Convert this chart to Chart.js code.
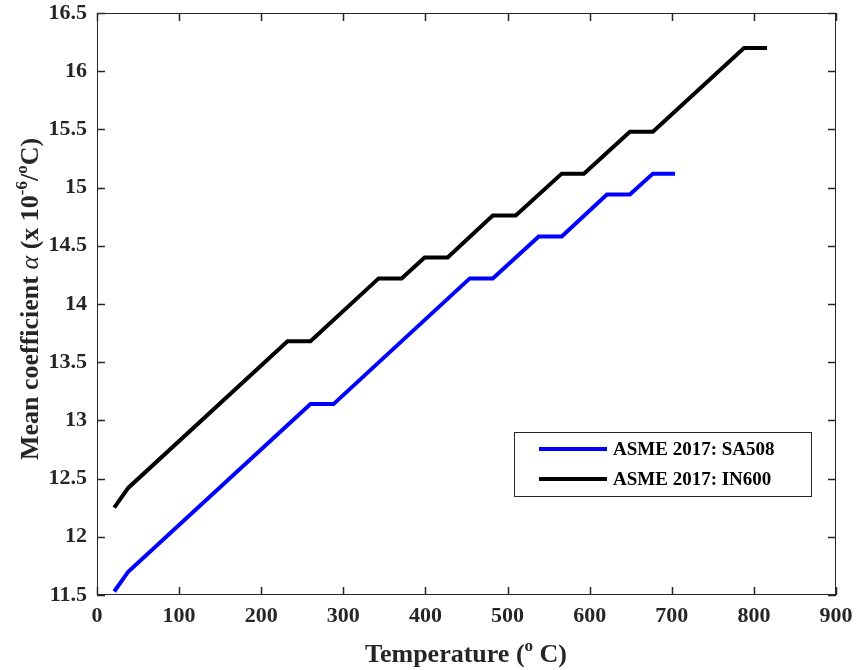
<!DOCTYPE html>
<html>
<head>
<meta charset="utf-8">
<script src="https://cdn.jsdelivr.net/npm/chart.js@4/dist/chart.umd.min.js"></script>
<style>
  html, body { margin: 0; padding: 0; background: #fff; }
  canvas { display: block; }
</style>
</head>
<body>
<canvas id="chart" width="856" height="670"></canvas>
<script>
// mean thermal expansion coefficient
const tempSA508  = [21, 38, 260, 288, 454, 482, 538, 566, 621, 649, 677, 704];
const alphaSA508 = [11.53, 11.70, 13.14, 13.14, 14.22, 14.22, 14.58, 14.58, 14.94, 14.94, 15.12, 15.12];

const tempIN600  = [21, 38, 232, 260, 343, 371, 399, 427, 482, 510, 566, 593, 649, 677, 788, 816];
const alphaIN600 = [12.25, 12.42, 13.68, 13.68, 14.22, 14.22, 14.40, 14.40, 14.76, 14.76, 15.12, 15.12, 15.48, 15.48, 16.20, 16.20];

const seriesLabels = ['ASME 2017: SA508', 'ASME 2017: IN600'];
const xTicks = [0, 100, 200, 300, 400, 500, 600, 700, 800, 900];
const yTicks = [11.5, 12, 12.5, 13, 13.5, 14, 14.5, 15, 15.5, 16, 16.5];

const INK = '#262626';
const SERIF = '"Liberation Serif", "Times New Roman", serif';

const toPoints = (xs, ys) => xs.map((x, i) => ({ x, y: ys[i] }));

// draw a line of text made of pieces (some raised as superscripts), centred on cx
function drawRich(ctx, parts, cx, cy) {
  let total = 0;
  parts.forEach(p => { ctx.font = p.font; total += ctx.measureText(p.text).width; });
  let x = cx - total / 2;
  ctx.textAlign = 'left';
  ctx.textBaseline = 'alphabetic';
  parts.forEach(p => {
    ctx.font = p.font;
    ctx.fillText(p.text, x, cy - (p.rise || 0));
    x += ctx.measureText(p.text).width;
  });
}

const frameAndTitles = {
  id: 'frameAndTitles',
  afterDatasetsDraw(chart) {
    const ctx = chart.ctx;
    const a = chart.chartArea;
    const xs = chart.scales.x, ys = chart.scales.y;
    const tl = 8;

    ctx.save();
    ctx.strokeStyle = INK;
    ctx.lineWidth = 1;
    ctx.strokeRect(a.left + 0.5, a.top + 0.5, a.right - a.left - 1, a.bottom - a.top - 1);

    // inward ticks on all four sides
    ctx.lineWidth = 1.5;
    ctx.beginPath();
    xTicks.forEach(v => {
      const px = Math.round(xs.getPixelForValue(v)) + 0.5;
      ctx.moveTo(px, a.bottom); ctx.lineTo(px, a.bottom - tl);
      ctx.moveTo(px, a.top); ctx.lineTo(px, a.top + tl);
    });
    yTicks.forEach(v => {
      const py = Math.round(ys.getPixelForValue(v)) + 0.5;
      ctx.moveTo(a.left, py); ctx.lineTo(a.left + tl, py);
      ctx.moveTo(a.right, py); ctx.lineTo(a.right - tl, py);
    });
    ctx.stroke();

    // legend box
    const lx = 514, ly = 432, lw = 297, lh = 64;
    ctx.fillStyle = '#fff';
    ctx.fillRect(lx, ly, lw, lh);
    ctx.lineWidth = 1;
    ctx.strokeStyle = INK;
    ctx.strokeRect(lx + 0.5, ly + 0.5, lw, lh);
    chart.data.datasets.forEach((ds, i) => {
      const y = ly + 17 + i * 30;
      ctx.strokeStyle = ds.borderColor;
      ctx.lineWidth = 4;
      ctx.beginPath();
      ctx.moveTo(lx + 25, y); ctx.lineTo(lx + 93, y);
      ctx.stroke();
      ctx.fillStyle = '#000';
      ctx.font = 'bold 19px ' + SERIF;
      ctx.textAlign = 'left';
      ctx.textBaseline = 'middle';
      ctx.fillText(ds.label, lx + 99, y + 1);
    });

    // axis titles
    ctx.fillStyle = INK;
    const big = 'bold 26px ' + SERIF;
    const sup = 'bold 17px ' + SERIF;
    drawRich(ctx, [
      { text: 'Temperature (', font: big },
      { text: 'o', font: sup, rise: 11 },
      { text: ' C)', font: big }
    ], 466, 662);

    ctx.translate(38, 299);
    ctx.rotate(-Math.PI / 2);
    drawRich(ctx, [
      { text: 'Mean coefficient ', font: big },
      { text: 'α', font: 'italic 26px ' + SERIF },
      { text: ' (x 10', font: big },
      { text: '-6', font: sup, rise: 11 },
      { text: '/', font: big },
      { text: 'o', font: sup, rise: 11 },
      { text: 'C)', font: big }
    ], 0, 0);
    ctx.restore();
  }
};

new Chart(document.getElementById('chart'), {
  type: 'line',
  data: {
    datasets: [
      {
        label: seriesLabels[0],
        data: toPoints(tempSA508, alphaSA508),
        borderColor: '#0000ff',
        borderWidth: 4,
        pointRadius: 0,
        tension: 0,
        borderJoinStyle: 'miter',
        borderCapStyle: 'butt',
        fill: false
      },
      {
        label: seriesLabels[1],
        data: toPoints(tempIN600, alphaIN600),
        borderColor: '#000000',
        borderWidth: 4,
        pointRadius: 0,
        tension: 0,
        borderJoinStyle: 'miter',
        borderCapStyle: 'butt',
        fill: false
      }
    ]
  },
  options: {
    responsive: false,
    animation: false,
    layout: { padding: { top: 13, right: 20, left: 0, bottom: 0 } },
    plugins: {
      legend: { display: false },
      tooltip: { enabled: false }
    },
    scales: {
      x: {
        type: 'linear',
        min: 0,
        max: 900,
        afterBuildTicks: s => { s.ticks = xTicks.map(v => ({ value: v })); },
        afterFit: s => { s.height = 75; s.paddingLeft = 0; s.paddingRight = 0; },
        grid: { display: false, drawTicks: false },
        border: { display: false },
        ticks: {
          padding: 10,
          color: INK,
          font: { family: SERIF, size: 22, weight: 'bold', lineHeight: 1 },
          maxRotation: 0,
          callback: v => String(v)
        }
      },
      y: {
        type: 'linear',
        min: 11.5,
        max: 16.5,
        afterBuildTicks: s => { s.ticks = yTicks.map(v => ({ value: v })); },
        afterFit: s => { s.width = 97; s.paddingTop = 0; s.paddingBottom = 0; },
        grid: { display: false, drawTicks: false },
        border: { display: false },
        ticks: {
          padding: 10,
          color: INK,
          font: { family: SERIF, size: 22, weight: 'bold', lineHeight: 1 },
          callback: v => String(v)
        }
      }
    }
  },
  plugins: [frameAndTitles]
});
</script>
</body>
</html>
